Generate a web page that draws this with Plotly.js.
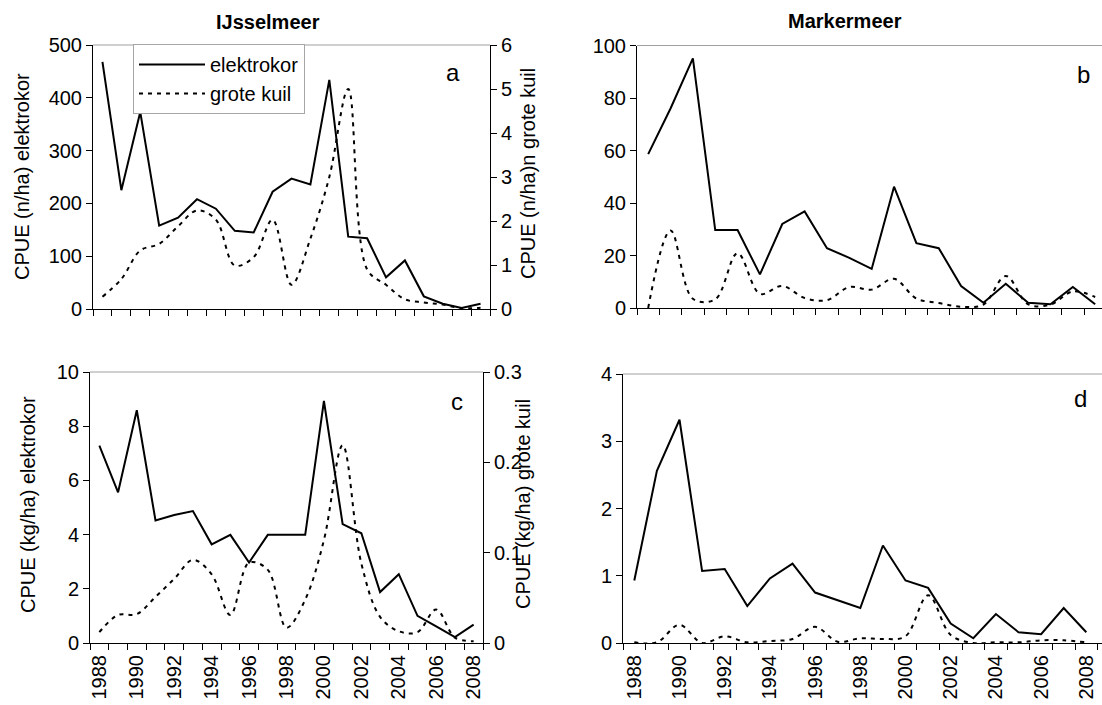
<!DOCTYPE html>
<html>
<head>
<meta charset="utf-8">
<script src="https://cdn.plot.ly/plotly-3.0.1.min.js"></script>
<style>html,body{margin:0;padding:0;background:#fff;overflow:hidden;}#chart{width:1102px;height:705px;}</style>
</head>
<body>
<div id="chart"></div>
<script>
// ---- data ----
const years = [1988,1989,1990,1991,1992,1993,1994,1995,1996,1997,1998,1999,2000,2001,2002,2003,2004,2005,2006,2007,2008];
const yearLabels = ["1988","1990","1992","1994","1996","1998","2000","2002","2004","2006","2008"];
const yearLabelVals = [1988,1990,1992,1994,1996,1998,2000,2002,2004,2006,2008];

// panel a: IJsselmeer, numbers (n/ha)
const ijsselElektrokorN = [468,225,373,158,173,208,190,148,145,222,247,236,434,137,134,60,92,24,10,2,10];
const ijsselGroteKuilN  = [0.28,0.68,1.33,1.48,1.88,2.24,2.03,0.99,1.18,2.03,0.55,1.6,3.0,5.0,0.9,0.55,0.22,0.15,0.1,0.02,0.03];
// panel b: Markermeer, numbers (n/ha)
const markerElektrokorN = [58.6,76,95.1,29.7,29.7,12.8,32.0,36.8,22.8,19.1,14.9,46.2,24.7,22.8,8.4,2.0,9.2,2.0,1.4,8.0,1.4];
const markerGroteKuilN  = [0,29.5,3.5,3.3,20.9,5.4,8.4,3.8,3.0,8.0,7.0,11.1,3.6,1.9,0.5,1.3,12.2,1.4,1.3,6.3,4.2];
// panel c: IJsselmeer, biomass (kg/ha)
const ijsselElektrokorKg = [7.28,5.56,8.59,4.52,4.72,4.87,3.64,3.99,2.97,3.99,3.99,3.99,8.93,4.39,4.05,1.88,2.54,1.0,0.61,0.22,0.68];
const ijsselGroteKuilKg  = [0.012,0.031,0.032,0.051,0.071,0.092,0.076,0.031,0.089,0.081,0.017,0.048,0.114,0.219,0.088,0.029,0.013,0.012,0.037,0.006,0.002];
// panel d: Markermeer, biomass (kg/ha)
const markerElektrokorKg = [0.93,2.56,3.32,1.07,1.10,0.55,0.96,1.18,0.75,0.64,0.52,1.45,0.93,0.82,0.29,0.07,0.43,0.16,0.13,0.52,0.16];
const markerGroteKuilKg  = [0.01,0.01,0.27,0.0,0.1,0.01,0.03,0.06,0.24,0.02,0.07,0.06,0.1,0.71,0.12,0.0,0.01,0.01,0.04,0.04,0.01];

const seriesNames = ["elektrokor","grote kuil"];

// ---- layout helpers ----
const W = 1102, H = 705;
const xd = (l, r) => [l / W, Math.min(1, r / W)];
const yd = (t, b) => [1 - b / H, 1 - t / H];
const FONT = "Liberation Sans, Arial, sans-serif";
const boundaries = years.map(y => y - 0.5).concat([years[years.length - 1] + 0.5]);

const solid = {color: "#000", width: 2};
const dashed = {color: "#000", width: 2, dash: "4px,5px", shape: "spline", smoothing: 1};

const traces = [
  {x: years, y: ijsselElektrokorN, xaxis: "x", yaxis: "y", mode: "lines", line: solid, name: seriesNames[0], showlegend: true},
  {x: years, y: ijsselGroteKuilN, xaxis: "x", yaxis: "y2", mode: "lines", line: dashed, name: seriesNames[1], showlegend: true},
  {x: years, y: markerElektrokorN, xaxis: "x2", yaxis: "y3", mode: "lines", line: solid, name: seriesNames[0], showlegend: false},
  {x: years, y: markerGroteKuilN, xaxis: "x2", yaxis: "y3", mode: "lines", line: dashed, name: seriesNames[1], showlegend: false},
  {x: years, y: ijsselElektrokorKg, xaxis: "x3", yaxis: "y4", mode: "lines", line: solid, name: seriesNames[0], showlegend: false},
  {x: years, y: ijsselGroteKuilKg, xaxis: "x3", yaxis: "y5", mode: "lines", line: dashed, name: seriesNames[1], showlegend: false},
  {x: years, y: markerElektrokorKg, xaxis: "x4", yaxis: "y6", mode: "lines", line: solid, name: seriesNames[0], showlegend: false},
  {x: years, y: markerGroteKuilKg, xaxis: "x4", yaxis: "y6", mode: "lines", line: dashed, name: seriesNames[1], showlegend: false}
];

const tickFont = {family: FONT, size: 20, color: "#000"};
function topX(domain, anchor, range) {
  return {domain, anchor, range, type: "linear", tickmode: "array", tickvals: boundaries,
    showticklabels: false, ticks: "outside", ticklen: 6, tickcolor: "#000", tickwidth: 1,
    showline: true, linecolor: "#000", linewidth: 1, showgrid: false, zeroline: false, fixedrange: true};
}
function bottomX(domain, anchor, range) {
  return {domain, anchor, range, type: "linear", tickmode: "array", tickvals: yearLabelVals, ticktext: yearLabels,
    tickangle: -90, ticks: "", ticklabelstandoff: 3, ticklabeloverflow: "allow", tickfont: tickFont,
    minor: {tickmode: "array", tickvals: boundaries, ticks: "outside", ticklen: 6, tickcolor: "#000", tickwidth: 1, showgrid: false},
    showline: true, linecolor: "#000", linewidth: 1, showgrid: false, zeroline: false, fixedrange: true};
}
function yAx(domain, anchor, range, dtick, extra) {
  return Object.assign({domain, anchor, range, tickmode: "linear", tick0: 0, dtick,
    ticks: "outside", ticklen: 6, tickcolor: "#000", tickwidth: 1, tickfont: tickFont,
    showline: true, linecolor: "#000", linewidth: 1, showgrid: false, zeroline: false, fixedrange: true}, extra || {});
}

const aX = xd(93, 490), aY = yd(45, 309);
const bX = xd(637, 1102), bY = yd(45.5, 308);
const cX = xd(90, 483), cY = yd(372, 643);
const dX = xd(623, 1102), dY = yd(374, 643);

const bRight = 1987.5 + (1102 - 637) / 22.35;
const dRight = 1987.5 + (1102 - 623) / 22.6;

const border = (xr, yr) => ({type: "line", xref: xr + " domain", yref: yr + " domain", x0: 0, x1: 1, y0: 1, y1: 1,
  line: {color: "#a0a0a0", width: 1}});

const ann = (text, px, py, opts) => Object.assign({text, x: px / W, y: 1 - py / H, xref: "paper", yref: "paper",
  showarrow: false, xanchor: "center", yanchor: "middle", font: {family: FONT, size: 20, color: "#000"}}, opts || {});

const layout = {
  width: W, height: H, autosize: false,
  margin: {l: 0, r: 0, t: 0, b: 0, pad: 0},
  paper_bgcolor: "#fff", plot_bgcolor: "#fff",
  font: {family: FONT, size: 20, color: "#000"},
  xaxis: topX(aX, "y", [1987.5, 2008.5]),
  xaxis2: topX(bX, "y3", [1987.5, bRight]),
  xaxis3: bottomX(cX, "y4", [1987.5, 2008.5]),
  xaxis4: bottomX(dX, "y6", [1987.5, dRight]),
  yaxis: yAx(aY, "x", [0, 500], 100),
  yaxis2: yAx(aY, "x", [0, 6], 1, {overlaying: "y", side: "right"}),
  yaxis3: yAx(bY, "x2", [0, 100], 20),
  yaxis4: yAx(cY, "x3", [0, 10], 2),
  yaxis5: yAx(cY, "x3", [0, 0.3], 0.1, {overlaying: "y4", side: "right", tickmode: "array", tickvals: [0, 0.1, 0.2, 0.3], ticktext: ["0", "0.1", "0.2", "0.3"]}),
  yaxis6: yAx(dY, "x4", [0, 4], 1),
  showlegend: true,
  legend: {x: 133 / W, y: 1 - 44 / H, xanchor: "left", yanchor: "top", bgcolor: "#fff",
    bordercolor: "#a6a6a6", borderwidth: 1, font: {family: FONT, size: 20, color: "#000"},
    itemwidth: 66, tracegroupgap: 0, traceorder: "normal"},
  shapes: [border("x", "y"), border("x2", "y3"), border("x3", "y4"), border("x4", "y6")],
  annotations: [
    ann("<b>IJsselmeer</b>", 268, 22),
    ann("<b>Markermeer</b>", 845, 21),
    ann("CPUE (n/ha) elektrokor", 22, 177, {textangle: -90}),
    ann("CPUE (n/ha)n grote kuil", 528, 174, {textangle: -90}),
    ann("CPUE (kg/ha) elektrokor", 28, 505, {textangle: -90}),
    ann("CPUE (kg/ha) grote kuil", 523, 504, {textangle: -90}),
    ann("a", 453, 72, {font: {family: FONT, size: 24, color: "#000"}}),
    ann("b", 1083, 74, {font: {family: FONT, size: 24, color: "#000"}}),
    ann("c", 457, 401, {font: {family: FONT, size: 24, color: "#000"}}),
    ann("d", 1080, 398, {font: {family: FONT, size: 24, color: "#000"}})
  ]
};

Plotly.newPlot("chart", traces, layout, {staticPlot: true, displayModeBar: false});
</script>
</body>
</html>
